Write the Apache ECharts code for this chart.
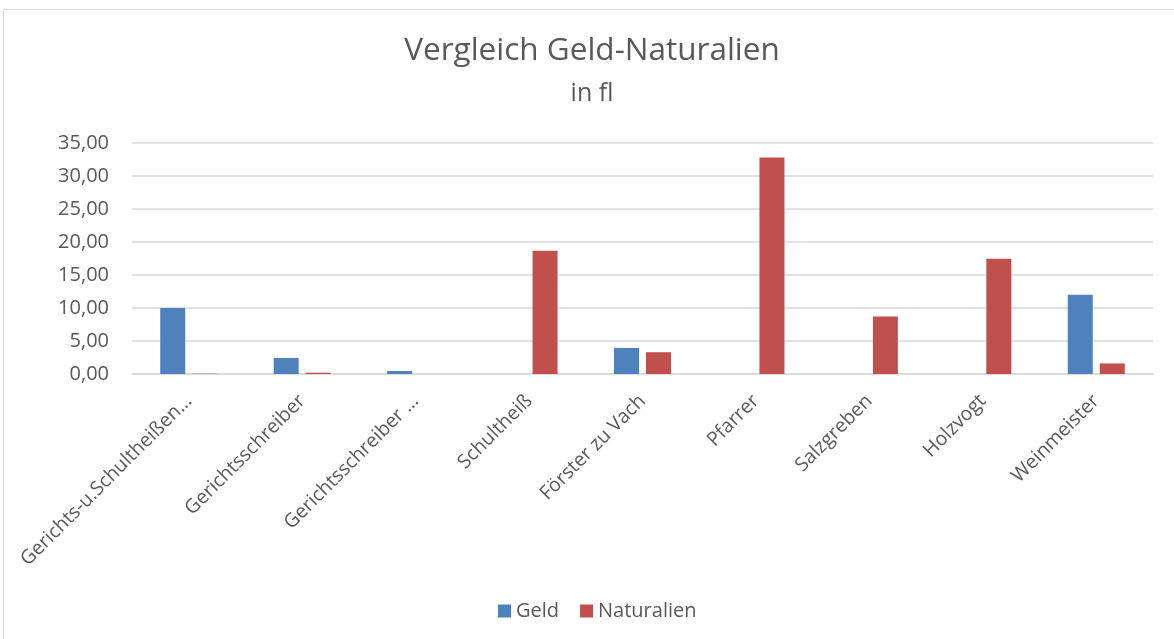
<!DOCTYPE html>
<html>
<head>
<meta charset="utf-8">
<script src="https://cdn.jsdelivr.net/npm/echarts@6/dist/echarts.min.js"></script>
<style>
  html, body { margin: 0; padding: 0; background: #fff; }
  #chart { width: 1174px; height: 639px; }
</style>
</head>
<body>
<div id="chart"></div>
<script>
var kategorien = ['Gerichts-u.Schultheißen…', 'Gerichtsschreiber', 'Gerichtsschreiber …', 'Schultheiß',
    'Förster zu Vach', 'Pfarrer', 'Salzgreben', 'Holzvogt', 'Weinmeister'];
var geld = [10.0, 2.43, 0.45, 0, 3.95, 0, 0, 0, 12.0];
var naturalien = [0.05, 0.2, 0, 18.67, 3.3, 32.8, 8.7, 17.45, 1.6];
var yTicks = [0, 5, 10, 15, 20, 25, 30, 35];

var schrift = '"Open Sans", sans-serif';
var grau = '#595959';

var chart = echarts.init(document.getElementById('chart'));

var option = {
    backgroundColor: '#fff',
    textStyle: { fontFamily: schrift },
    //Rahmen wie im Excel-Diagramm
    graphic: [{
        type: 'rect',
        shape: { x: 3.5, y: 9.5, width: 1200, height: 700 },
        style: { fill: 'none', stroke: '#d9d9d9', lineWidth: 1 },
        silent: true
    }],
    title: {
        text: 'Vergleich Geld-Naturalien',
        subtext: 'in fl',
        left: 587,
        textAlign: 'center',
        top: 30,
        itemGap: 14,
        textStyle: { fontFamily: schrift, fontSize: 31.5, fontWeight: 'normal', color: grau },
        subtextStyle: { fontFamily: schrift, fontSize: 25, color: grau }
    },
    legend: {
        data: ['Geld', 'Naturalien'],
        bottom: 13,
        left: 493,
        icon: 'rect',
        itemWidth: 13,
        itemHeight: 13,
        itemGap: 21,
        textStyle: { fontFamily: schrift, fontSize: 20, color: grau }
    },
    grid: {
        left: 132,
        right: 21,
        top: 143,
        bottom: 265
    },
    xAxis: {
        type: 'category',
        data: kategorien,
        axisTick: { show: false },
        axisLine: { lineStyle: { color: '#d9d9d9', width: 1.5 } },
        axisLabel: {
            interval: 0,
            rotate: 45,
            margin: 24,
            fontSize: 19.5,
            color: grau,
            fontFamily: schrift
        }
    },
    yAxis: {
        type: 'value',
        min: yTicks[0],
        max: yTicks[yTicks.length - 1],
        interval: 5,
        axisLine: { show: false },
        axisTick: { show: false },
        axisLabel: {
            margin: 23,
            fontSize: 20,
            color: grau,
            fontFamily: schrift,
            formatter: function (v) { return v.toFixed(2).replace('.', ','); }
        },
        splitLine: { lineStyle: { color: '#d9d9d9', width: 1.5 } }
    },
    series: [
        {
            name: 'Geld',
            type: 'bar',
            data: geld,
            barWidth: 25,
            barGap: '28%',
            itemStyle: { color: '#4F81BD' }
        },
        {
            name: 'Naturalien',
            type: 'bar',
            data: naturalien,
            barWidth: 25,
            itemStyle: { color: '#C0504D' }
        }
    ]
};
chart.setOption(option);
</script>
</body>
</html>
